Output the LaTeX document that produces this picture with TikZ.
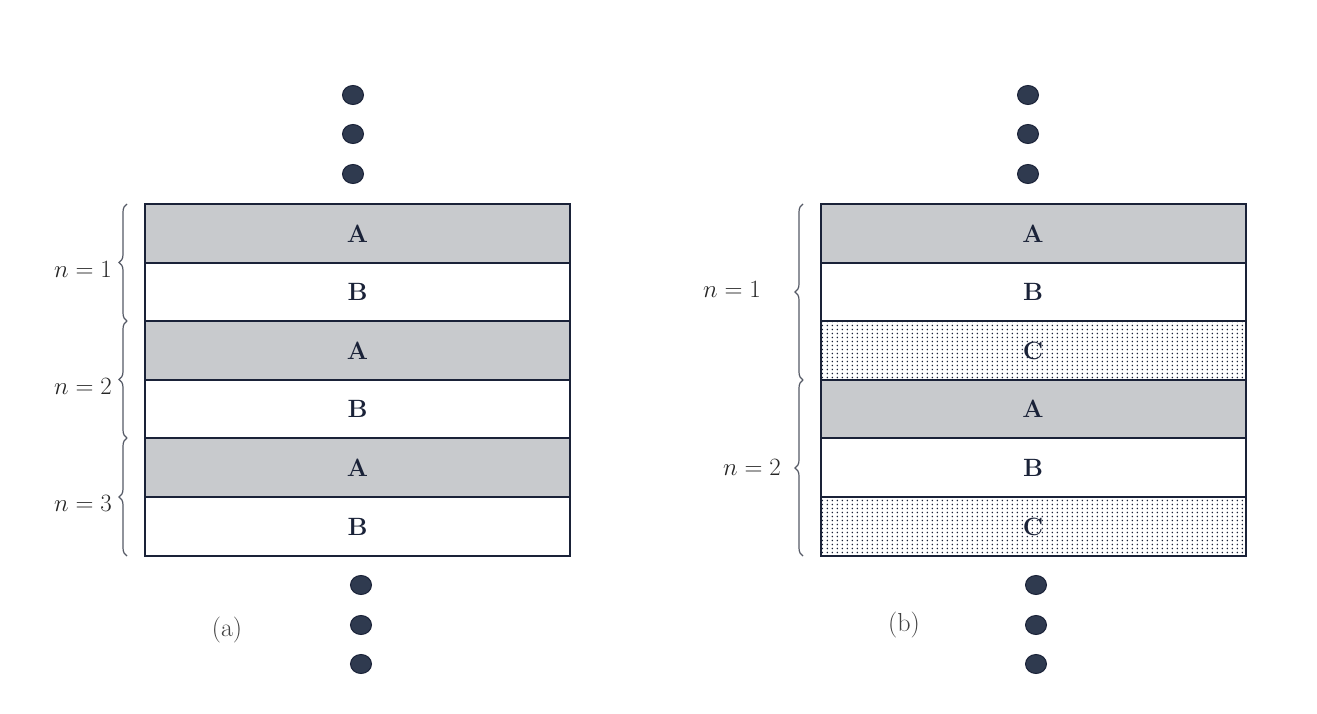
\documentclass[tikz,border=0pt]{standalone}
\usetikzlibrary{shapes.geometric,decorations.pathreplacing,patterns}
\definecolor{ink}{HTML}{1A2238}
\definecolor{grayA}{HTML}{C8CACD}
\definecolor{dotc}{HTML}{2F3A4F}
\definecolor{bracec}{HTML}{555A66}
\pgfdeclarepatternformonly{sparsedots}{\pgfpointorigin}{\pgfpoint{5.2pt}{3.9pt}}{\pgfpoint{5.2pt}{3.9pt}}{%
  \pgfpathcircle{\pgfpoint{1.5pt}{1.5pt}}{0.9pt}\pgfusepath{fill}}
\tikzset{
  layer/.style={draw=ink, line width=2pt, minimum width=425pt, minimum height=58.5pt, inner sep=0pt,
     font=\fontsize{25}{28}\selectfont\bfseries, text=ink},
  layA/.style={layer, fill=grayA},
  layB/.style={layer, fill=white},
  layC/.style={layer, pattern=sparsedots, pattern color=ink},
  bigdot/.style={ellipse, draw=ink, line width=1pt, fill=dotc, minimum width=21pt, minimum height=19pt, inner sep=0pt},
  brc/.style={draw=bracec, line width=1.2pt, decorate, decoration={brace, amplitude=8pt}},
  lbl/.style={font=\fontsize{23}{26}\selectfont, text=black!85, inner sep=0pt},
  captxt/.style={font=\fontsize{26}{29}\selectfont, text=black!75, inner sep=0pt},
}
\begin{document}
\begin{tikzpicture}[x=1pt,y=-1pt]
\useasboundingbox[fill=white] (0,0) rectangle (1317,714);
% ---- (a)
\node[layA] (a1) at (357.5,233.5) {A};
\node[layB] (b1) at (357.5,292) {B};
\node[layA] (a2) at (357.5,350.5) {A};
\node[layB] (b2) at (357.5,409) {B};
\node[layA] (a3) at (357.5,467.5) {A};
\node[layB] (b3) at (357.5,526.5) {B};
\node[bigdot] (ta1) at (353,95) {};
\node[bigdot] (ta2) at (353,134) {};
\node[bigdot] (ta3) at (353,174) {};
\node[bigdot] (ba1) at (361,585) {};
\node[bigdot] (ba2) at (361,625) {};
\node[bigdot] (ba3) at (361,664) {};
\coordinate (la1) at (127,321);
\coordinate (la0) at (127,204);
\coordinate (la2) at (127,438);
\coordinate (la3) at (127,556);
\draw[brc] (la1) -- (la0);
\draw[brc] (la2) -- (la1);
\draw[brc] (la3) -- (la2);
\node[lbl, anchor=east] (na1) at (112,269) {$n=1$};
\node[lbl, anchor=east] (na2) at (112,386) {$n=2$};
\node[lbl, anchor=east] (na3) at (112,503) {$n=3$};
\node[captxt] (capa) at (227,630) {(a)};
% ---- (b)
\node[layA] (a4) at (1033,233.5) {A};
\node[layB] (b4) at (1033,292) {B};
\node[layC] (c4) at (1033,350.5) {C};
\node[layA] (a5) at (1033,409) {A};
\node[layB] (b5) at (1033,467.5) {B};
\node[layC] (c5) at (1033,526.5) {C};
\node[bigdot] (tb1) at (1028,95) {};
\node[bigdot] (tb2) at (1028,134) {};
\node[bigdot] (tb3) at (1028,174) {};
\node[bigdot] (bb1) at (1036,585) {};
\node[bigdot] (bb2) at (1036,625) {};
\node[bigdot] (bb3) at (1036,664) {};
\coordinate (lb0) at (803,204);
\coordinate (lb1) at (803,380);
\coordinate (lb2) at (803,556);
\draw[brc] (lb1) -- (lb0);
\draw[brc] (lb2) -- (lb1);
\node[lbl, anchor=east] (nb1) at (761,289) {$n=1$};
\node[lbl, anchor=east] (nb2) at (781,467) {$n=2$};
\node[captxt] (capb) at (904,625) {(b)};
\end{tikzpicture}
\end{document}
